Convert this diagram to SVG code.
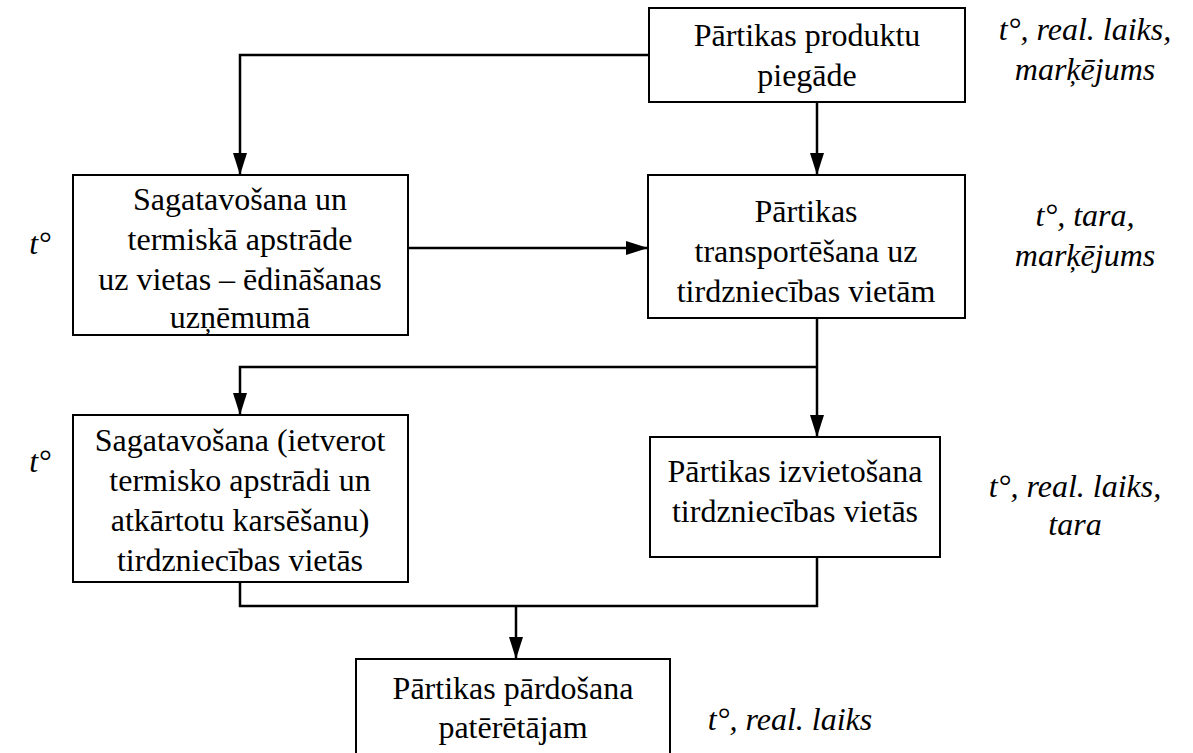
<svg xmlns="http://www.w3.org/2000/svg" width="1193" height="753" viewBox="0 0 1193 753" font-family="Times New Roman, Liberation Serif, Tinos, serif">
<rect width="1193" height="753" fill="#fff"/>
<defs>
<marker id="ah" markerWidth="22" markerHeight="14" refX="22" refY="7" viewBox="0 0 22 14" orient="auto" markerUnits="userSpaceOnUse">
<path d="M0,0 L22,7 L0,14 Z" fill="#000"/>
</marker>
</defs>
<g id="connectors" fill="none" stroke="#000" stroke-width="2.5">
<path d="M649,55 H240 V175" marker-end="url(#ah)"/>
<path d="M817,102 V175" marker-end="url(#ah)"/>
<path d="M408,248 H648" marker-end="url(#ah)"/>
<path d="M817,318 V437" marker-end="url(#ah)"/>
<path d="M817,367 H240 V415" marker-end="url(#ah)"/>
<path d="M240,582 V606 H817 V557"/>
<path d="M516,606 V659" marker-end="url(#ah)"/>
</g>
<g id="n1">
<rect fill="#fff" stroke="#000" stroke-width="2" x="649" y="8" width="316" height="94"/>
<text font-family="Times New Roman, Liberation Serif, serif" font-size="32" x="807" y="46" text-anchor="middle">Pārtikas produktu</text>
<text font-family="Times New Roman, Liberation Serif, serif" font-size="32" x="807" y="86" text-anchor="middle">piegāde</text>
</g>
<g id="n2">
<rect fill="#fff" stroke="#000" stroke-width="2" x="73" y="175" width="335" height="160"/>
<text font-family="Times New Roman, Liberation Serif, serif" font-size="32" x="240" y="210" text-anchor="middle">Sagatavošana un</text>
<text font-family="Times New Roman, Liberation Serif, serif" font-size="32" x="240" y="250" text-anchor="middle">termiskā apstrāde</text>
<text font-family="Times New Roman, Liberation Serif, serif" font-size="32" x="240" y="290" text-anchor="middle">uz vietas – ēdināšanas</text>
<text font-family="Times New Roman, Liberation Serif, serif" font-size="32" x="240" y="328" text-anchor="middle">uzņēmumā</text>
</g>
<g id="n3">
<rect fill="#fff" stroke="#000" stroke-width="2" x="648" y="175" width="317" height="143"/>
<text font-family="Times New Roman, Liberation Serif, serif" font-size="32" x="806" y="222" text-anchor="middle">Pārtikas</text>
<text font-family="Times New Roman, Liberation Serif, serif" font-size="32" x="806" y="262" text-anchor="middle">transportēšana uz</text>
<text font-family="Times New Roman, Liberation Serif, serif" font-size="32" x="806" y="302" text-anchor="middle">tirdzniecības vietām</text>
</g>
<g id="n4">
<rect fill="#fff" stroke="#000" stroke-width="2" x="73" y="415" width="335" height="167"/>
<text font-family="Times New Roman, Liberation Serif, serif" font-size="32" x="240" y="451" text-anchor="middle">Sagatavošana (ietverot</text>
<text font-family="Times New Roman, Liberation Serif, serif" font-size="32" x="240" y="491" text-anchor="middle">termisko apstrādi un</text>
<text font-family="Times New Roman, Liberation Serif, serif" font-size="32" x="240" y="531" text-anchor="middle">atkārtotu karsēšanu)</text>
<text font-family="Times New Roman, Liberation Serif, serif" font-size="32" x="240" y="571" text-anchor="middle">tirdzniecības vietās</text>
</g>
<g id="n5">
<rect fill="#fff" stroke="#000" stroke-width="2" x="650" y="437" width="290" height="120"/>
<text font-family="Times New Roman, Liberation Serif, serif" font-size="32" x="795" y="482" text-anchor="middle">Pārtikas izvietošana</text>
<text font-family="Times New Roman, Liberation Serif, serif" font-size="32" x="795" y="522" text-anchor="middle">tirdzniecības vietās</text>
</g>
<g id="n6">
<rect fill="#fff" stroke="#000" stroke-width="2" x="356" y="659" width="314" height="100"/>
<text font-family="Times New Roman, Liberation Serif, serif" font-size="32" x="513" y="699" text-anchor="middle">Pārtikas pārdošana</text>
<text font-family="Times New Roman, Liberation Serif, serif" font-size="32" x="513" y="738" text-anchor="middle">patērētājam</text>
</g>
<g id="labels">
<text font-family="Times New Roman, Liberation Serif, serif" font-size="32" font-style="italic" x="1085" y="40" text-anchor="middle">t°, real. laiks,</text>
<text font-family="Times New Roman, Liberation Serif, serif" font-size="32" font-style="italic" x="1085" y="80" text-anchor="middle">marķējums</text>
<text font-family="Times New Roman, Liberation Serif, serif" font-size="32" font-style="italic" x="40" y="254" text-anchor="middle">t°</text>
<text font-family="Times New Roman, Liberation Serif, serif" font-size="32" font-style="italic" x="1085" y="226" text-anchor="middle">t°, tara,</text>
<text font-family="Times New Roman, Liberation Serif, serif" font-size="32" font-style="italic" x="1085" y="266" text-anchor="middle">marķējums</text>
<text font-family="Times New Roman, Liberation Serif, serif" font-size="32" font-style="italic" x="40" y="472" text-anchor="middle">t°</text>
<text font-family="Times New Roman, Liberation Serif, serif" font-size="32" font-style="italic" x="1075" y="497" text-anchor="middle">t°, real. laiks,</text>
<text font-family="Times New Roman, Liberation Serif, serif" font-size="32" font-style="italic" x="1075" y="535" text-anchor="middle">tara</text>
<text font-family="Times New Roman, Liberation Serif, serif" font-size="32" font-style="italic" x="790" y="730" text-anchor="middle">t°, real. laiks</text>
</g>
</svg>
